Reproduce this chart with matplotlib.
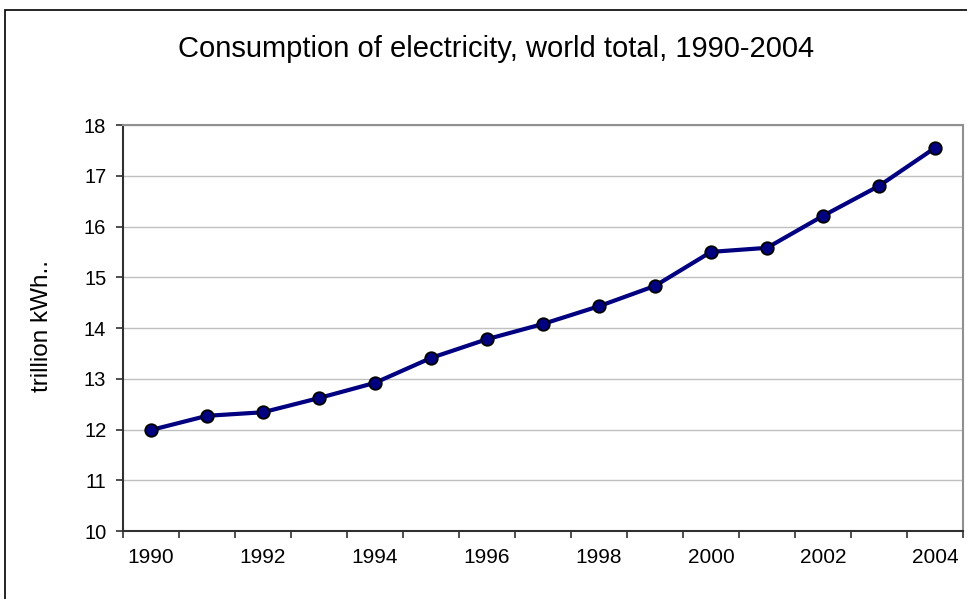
import numpy as np
import matplotlib
matplotlib.use('Agg')
from matplotlib import pyplot as plt
from matplotlib.patches import Rectangle

plt.rcParams['font.family'] = ['Liberation Sans', 'DejaVu Sans']

## Data
years = list(range(1990, 2005))
consumption = [11.99, 12.27, 12.34, 12.62, 12.92, 13.41, 13.78, 14.08,
               14.43, 14.83, 15.50, 15.58, 16.21, 16.80, 17.55]
tick_years = [1990, 1992, 1994, 1996, 1998, 2000, 2002, 2004]
y_ticks = [10, 11, 12, 13, 14, 15, 16, 17, 18]

fig = plt.figure(figsize=(9.67, 5.99), dpi=100)
ax = fig.add_axes([0.1272, 0.1135, 0.9959 - 0.1272, 0.7913 - 0.1135])

## Outer chart border
fig.patches.append(Rectangle((5 / 967, -0.01), 1.0, (599 - 10) / 599 + 0.01,
                             transform=fig.transFigure, fill=False,
                             edgecolor='black', linewidth=1.2))

x = np.arange(len(years))
ax.plot(x, consumption, color='#000080', linewidth=3,
        marker='o', markersize=9, markerfacecolor='#000080',
        markeredgecolor='black', markeredgewidth=1.3, zorder=3)

ax.set_xlim(-0.5, len(years) - 0.5)
ax.set_ylim(10, 18)
ax.set_yticks(y_ticks)
ax.yaxis.grid(True, color='#c0c0c0', linewidth=1)
ax.set_axisbelow(True)

## Category boundaries carry tick marks, labels sit at category centres
ax.set_xticks(np.arange(-0.5, len(years), 1.0))
ax.set_xticklabels([])
ax.set_xticks([years.index(y) for y in tick_years], minor=True)
ax.set_xticklabels([str(y) for y in tick_years], minor=True)
ax.tick_params(axis='x', which='major', length=5, width=1.2, color='#303030', direction='out')
ax.tick_params(axis='x', which='minor', length=0, pad=12, labelsize=15)
ax.tick_params(axis='y', length=5, width=1.2, color='#303030', direction='out', labelsize=14.5, pad=7)

for side in ['left', 'bottom']:
    ax.spines[side].set_color('#303030')
    ax.spines[side].set_linewidth(1.5)
for side in ['top', 'right']:
    ax.spines[side].set_color('#909090')
    ax.spines[side].set_linewidth(1.5)

ax.set_ylabel('trillion kWh..', fontsize=17.5)
ax.yaxis.set_label_coords(-0.083, 0.506)
fig.text(0.513, 0.918, 'Consumption of electricity, world total, 1990-2004',
         ha='center', va='center', fontsize=21)

plt.savefig('out.png', dpi=100)
